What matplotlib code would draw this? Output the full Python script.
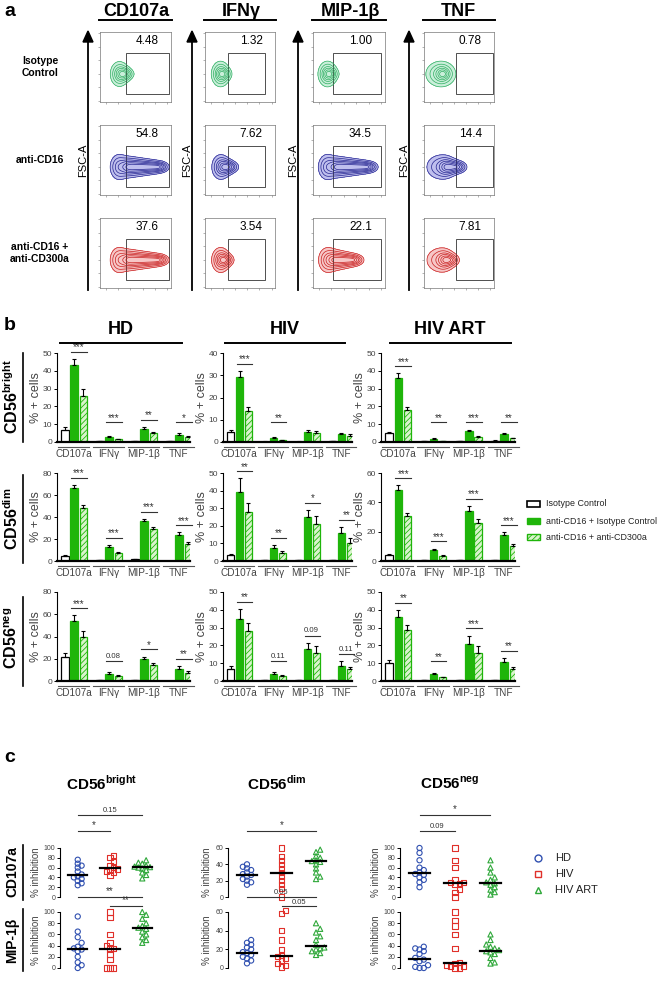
import numpy as np
import matplotlib
matplotlib.use("Agg")
import matplotlib.pyplot as plt
from matplotlib.lines import Line2D
from matplotlib.patches import Rectangle, Polygon

plt.rcParams['font.family'] = ['Liberation Sans', 'DejaVu Sans']
plt.rcParams['hatch.linewidth'] = 0.6

# ---------------- data ----------------
markers = ["CD107a", "IFNγ", "MIP-1β", "TNF"]
conditions = ["Isotype\nControl", "anti-CD16", "anti-CD16 +\nanti-CD300a"]
flow_pct = [[4.48, 1.32, 1.00, 0.78],
            [54.8, 7.62, 34.5, 14.4],
            [37.6, 3.54, 22.1, 7.81]]

cohorts = ["HD", "HIV", "HIV ART"]
subset_labels = ["bright", "dim", "neg"]
treatments = ["Isotype Control", "anti-CD16 + Isotype Control", "anti-CD16 + anti-CD300a"]

# bar means / errors: rows = treatment, cols = marker
HD_bright_mean = [[7.0, 0.3, 0.5, 0.4], [43, 3.0, 7.5, 4.0], [26, 1.5, 5.0, 3.0]]
HD_bright_err = [[1.5, 0.1, 0.1, 0.1], [3.5, 0.5, 0.8, 0.8], [3.5, 0.4, 0.6, 0.5]]
HD_bright_sig = ["***", "***", "**", "*"]
HIV_bright_mean = [[4.5, 0.2, 0.2, 0.5], [29, 1.8, 4.5, 3.5], [14, 0.8, 4.0, 2.8]]
HIV_bright_err = [[0.8, 0.1, 0.1, 0.1], [3.0, 0.3, 1.0, 0.7], [1.8, 0.2, 1.0, 0.8]]
HIV_bright_sig = ["***", "**", "", ""]
ART_bright_mean = [[5.0, 0.5, 0.5, 0.8], [36, 1.8, 6.0, 4.5], [18, 0.6, 3.0, 2.0]]
ART_bright_err = [[0.7, 0.1, 0.1, 0.1], [2.5, 0.3, 1.0, 0.8], [1.5, 0.2, 0.5, 0.4]]
ART_bright_sig = ["***", "**", "***", "**"]

HD_dim_mean = [[5.0, 0.5, 1.5, 0.3], [66, 13, 36, 23.5], [48, 7.5, 29.5, 15.5]]
HD_dim_err = [[0.8, 0.2, 0.3, 0.1], [3.0, 1.5, 2.5, 2.5], [3.0, 1.0, 1.5, 1.5]]
HD_dim_sig = ["***", "***", "***", "***"]
HIV_dim_mean = [[3.5, 0.5, 0.5, 0.5], [39, 7.5, 25, 16], [28, 4.5, 21, 10.5]]
HIV_dim_err = [[0.6, 0.2, 0.1, 0.1], [8.0, 1.5, 4.0, 3.5], [5.0, 1.0, 4.5, 2.5]]
HIV_dim_sig = ["**", "**", "*", "**"]
ART_dim_mean = [[4.0, 0.5, 0.5, 0.5], [48.5, 7.5, 34, 17.5], [31, 3.5, 26, 10]]
ART_dim_err = [[0.7, 0.2, 0.1, 0.1], [3.0, 1.0, 3.5, 2.0], [2.0, 0.6, 2.5, 1.5]]
ART_dim_sig = ["***", "***", "***", "***"]

HD_neg_mean = [[22, 1.0, 0.5, 0.3], [54, 6.5, 19.5, 11], [40, 4.5, 14.5, 7.5]]
HD_neg_err = [[3.5, 0.3, 0.1, 0.1], [5.0, 1.5, 2.5, 2.5], [4.5, 1.0, 1.5, 1.5]]
HD_neg_sig = ["***", "0.08", "*", "**"]
HIV_neg_mean = [[7.0, 0.5, 0.3, 0.3], [35, 4.0, 18, 8.5], [28, 3.0, 16, 6.5]]
HIV_neg_err = [[1.2, 0.2, 0.1, 0.1], [5.5, 1.0, 3.5, 2.5], [4.5, 0.6, 3.5, 1.5]]
HIV_neg_sig = ["**", "0.11", "0.09", "0.11"]
ART_neg_mean = [[10, 0.5, 0.3, 0.3], [36, 4.0, 21, 10.5], [28.5, 2.0, 16, 6.5]]
ART_neg_err = [[2.0, 0.2, 0.1, 0.1], [4.0, 0.7, 4.5, 2.5], [3.0, 0.5, 3.5, 1.5]]
ART_neg_sig = ["**", "**", "***", "**"]

bar_ymax = [[50, 40, 50], [80, 50, 60], [80, 50, 50]]
bar_ystep = [[10, 10, 10], [20, 10, 20], [20, 10, 10]]

# panel c: % inhibition per donor
groups_c = ["HD", "HIV", "HIV ART"]
cd107a_bright = [[76, 68, 64, 60, 52, 46, 42, 40, 37, 33, 28, 24],
                 [85, 80, 72, 65, 60, 57, 55, 52, 50, 45],
                 [75, 70, 68, 64, 62, 61, 60, 58, 55, 50, 45, 38]]
cd107a_dim = [[40, 37, 35, 33, 30, 28, 27, 25, 22, 20, 18, 15],
              [60, 50, 45, 40, 35, 30, 25, 20, 15, 10, 0],
              [58, 55, 50, 48, 45, 44, 43, 40, 35, 30, 25, 22]]
cd107a_neg = [[100, 90, 75, 60, 55, 50, 47, 45, 40, 35, 30, 20],
              [100, 75, 60, 35, 30, 29, 28, 25, 15, 10, 0],
              [75, 60, 50, 40, 35, 30, 28, 25, 20, 15, 10, 5]]
mip_bright = [[92, 65, 55, 45, 38, 35, 33, 30, 20, 10, 5, 0],
              [100, 90, 60, 45, 40, 35, 34, 25, 15, 0, 0, 0],
              [100, 95, 88, 80, 75, 72, 70, 65, 60, 55, 50, 45]]
mip_dim = [[30, 27, 25, 22, 20, 17, 16, 14, 12, 10, 8, 5],
           [62, 58, 40, 30, 20, 13, 12, 10, 8, 5, 3, 1],
           [48, 42, 38, 34, 30, 25, 22, 21, 20, 18, 16, 14]]
mip_neg = [[38, 35, 33, 30, 25, 18, 15, 12, 5, 2, 0, 0],
           [100, 85, 75, 60, 35, 10, 8, 5, 3, 2, 0, 0],
           [60, 50, 42, 38, 35, 32, 30, 28, 25, 18, 10, 8]]
scatter_ymax = [[100, 60, 100], [100, 60, 100]]
scatter_sig = [[[(0, 1, "*"), (0, 2, "0.15")], [(0, 2, "*")], [(0, 1, "0.09"), (0, 2, "*")]],
               [[(1, 2, "**"), (0, 2, "**")], [(1, 2, "0.05"), (0, 2, "0.05")], []]]

# ---------------- figure helpers ----------------
W, H = 666, 990
fig = plt.figure(figsize=(W / 100, H / 100), dpi=100)
GREEN = '#1fb50a'
LGREEN = '#d9f4cc'
GRAY = '#444444'


def ax_px(x0, y0, x1, y1):
    return fig.add_axes([x0 / W, 1 - y1 / H, (x1 - x0) / W, (y1 - y0) / H])


def ftext(x, y, s, **kw):
    fig.text(x / W, 1 - y / H, s, **kw)


def fline(x0, y0, x1, y1, **kw):
    fig.add_artist(Line2D([x0 / W, x1 / W], [1 - y0 / H, 1 - y1 / H],
                          transform=fig.transFigure, **kw))


# ---------------- panel a ----------------
ftext(4, 12, "a", fontsize=14, fontweight='bold', va='center')
col_x = [(100, 171), (205, 275), (313, 385), (424, 494)]
row_y = [(32, 102), (125, 195), (218, 288)]
arrow_x = [88, 192, 298, 409]
title_cx = [136, 241, 350, 458]
blob_cx = [0.27, 0.22, 0.20, 0.24]
blob_sx = [0.06, 0.06, 0.06, 0.10]
gate_x = [(0.37, 0.97), (0.33, 0.86), (0.28, 0.94), (0.45, 0.98)]
fill_cols = ['#9fe3bd', '#8c8ce0', '#f29a9a']
line_cols = ['#2fae62', '#23238f', '#c81e1e']

for j, m in enumerate(markers):
    ftext(title_cx[j], 12, m, fontsize=13, fontweight='bold', ha='center', va='center')
    fline(col_x[j][0] - 1, 20, col_x[j][1] + 1, 20, color='black', lw=1.4)
    fline(arrow_x[j], 290, arrow_x[j], 40, color='black', lw=1.3)
    fig.add_artist(Polygon(
        [[(arrow_x[j] - 5) / W, 1 - 42 / H], [(arrow_x[j] + 5) / W, 1 - 42 / H],
         [arrow_x[j] / W, 1 - 31 / H]], closed=True, transform=fig.transFigure,
        color='black'))
    ftext(arrow_x[j] - 5, 160, "FSC-A", fontsize=8, rotation=90, ha='center', va='center')

X, Y = np.meshgrid(np.linspace(0, 1, 220), np.linspace(0, 1, 220))
for i in range(3):
    ftext(40, (row_y[i][0] + row_y[i][1]) / 2, conditions[i], fontsize=7.5,
          fontweight='bold', ha='center', va='center', linespacing=1.2)
    for j in range(4):
        ax = ax_px(col_x[j][0], row_y[i][0], col_x[j][1], row_y[i][1])
        pct = flow_pct[i][j]
        cx, cy = blob_cx[j], 0.40
        Z = np.exp(-0.5 * (((X - cx) / blob_sx[j]) ** 2 + ((Y - cy) / 0.085) ** 2))
        L = min(0.6, 0.04 + pct / 60)
        amp = min(0.85, 0.1 + pct / 40)
        for t in np.linspace(0.15, 1, 14):
            Z += amp * np.exp(-0.5 * (((X - cx - L * t) / 0.05) ** 2 +
                                      ((Y - cy) / (0.07 * (1 - 0.5 * t))) ** 2))
        zmax = Z.max()
        lev = zmax * np.array([0.04, 0.12, 0.25, 0.4, 0.6, 0.8])
        ax.contourf(X, Y, Z, levels=[lev[0], zmax * 1.01], colors=[fill_cols[i]], alpha=0.55)
        ax.contour(X, Y, Z, levels=lev, colors=[line_cols[i]], linewidths=0.5)
        g0, g1 = gate_x[j]
        ax.add_patch(Rectangle((g0, 0.12), g1 - g0, 0.58, fill=False, ec='#333333', lw=0.6))
        lab = f"{pct:.2f}" if pct < 10 else f"{pct:.1f}"
        ax.text(0.66, 0.87, lab, fontsize=8.5, ha='center', va='center', transform=ax.transAxes)
        ax.set_xlim(0, 1)
        ax.set_ylim(0, 1)
        ax.set_xticks(np.linspace(0.08, 0.95, 6))
        ax.set_yticks(np.linspace(0.02, 0.98, 6))
        ax.tick_params(length=1.5, width=0.4, labelbottom=False, labelleft=False, colors='#777777')
        for s in ax.spines.values():
            s.set_color('#777777')
            s.set_linewidth(0.5)

# ---------------- panel b ----------------
ftext(4, 326, "b", fontsize=14, fontweight='bold', va='center')
bar_x = [(57, 190), (223, 352), (381, 515)]
bar_rows = [(353, 442), (473, 561), (592, 681)]
coh_title_x = [121, 285, 450]
coh_line = [(60, 182), (225, 345), (390, 511)]
for k, c in enumerate(cohorts):
    ftext(coh_title_x[k], 330, c, fontsize=13, fontweight='bold', ha='center', va='center')
    fline(coh_line[k][0], 343, coh_line[k][1], 343, color='black', lw=1.4)

row_label_y = [397, 519, 638]
row_line = [(353, 442), (475, 563), (597, 686)]
for r, sname in enumerate(subset_labels):
    ftext(12, row_label_y[r], "CD56$^{\\mathregular{" + sname + "}}$", fontsize=11.5,
          fontweight='bold', rotation=90, ha='center', va='center')
    fline(23, row_line[r][0], 23, row_line[r][1], color='black', lw=1.2)

panels_b = [[(HD_bright_mean, HD_bright_err, HD_bright_sig),
             (HIV_bright_mean, HIV_bright_err, HIV_bright_sig),
             (ART_bright_mean, ART_bright_err, ART_bright_sig)],
            [(HD_dim_mean, HD_dim_err, HD_dim_sig),
             (HIV_dim_mean, HIV_dim_err, HIV_dim_sig),
             (ART_dim_mean, ART_dim_err, ART_dim_sig)],
            [(HD_neg_mean, HD_neg_err, HD_neg_sig),
             (HIV_neg_mean, HIV_neg_err, HIV_neg_sig),
             (ART_neg_mean, ART_neg_err, ART_neg_sig)]]

w, off = 0.21, 0.26
xs = np.arange(4)
for r in range(3):
    for k in range(3):
        means, errs, sigs = panels_b[r][k]
        ymax = bar_ymax[r][k]
        ax = ax_px(bar_x[k][0], bar_rows[r][0], bar_x[k][1], bar_rows[r][1])
        ekw = dict(ecolor='black', elinewidth=0.8, capsize=1.6, capthick=0.8)
        ax.bar(xs - off, means[0], w, color='white', edgecolor='black', lw=0.9,
               yerr=[np.zeros(4), errs[0]], error_kw=ekw, zorder=3)
        ax.bar(xs, means[1], w, color=GREEN, edgecolor=GREEN, lw=0.9,
               yerr=[np.zeros(4), errs[1]], error_kw=ekw, zorder=3)
        ax.bar(xs + off, means[2], w, color=LGREEN, edgecolor=GREEN, lw=0.9, hatch='//////',
               yerr=[np.zeros(4), errs[2]], error_kw=ekw, zorder=3)
        ax.set_xlim(-0.49, 3.31)
        ax.set_ylim(0, ymax)
        ax.set_yticks(np.arange(0, ymax + 1, bar_ystep[r][k]))
        ax.set_xticks([])
        for s in ['top', 'right', 'bottom']:
            ax.spines[s].set_visible(False)
        ax.spines['left'].set_linewidth(0.8)
        ax.tick_params(axis='y', length=2.5, width=0.7, labelsize=6, labelcolor=GRAY, pad=1)
        ax.axhline(0, color='black', lw=1.6, zorder=4, clip_on=False)
        ax.set_ylabel("% + cells", fontsize=9, color=GRAY, labelpad=0.5)
        tr = ax.get_xaxis_transform()
        for i, m in enumerate(markers):
            ax.plot([i - 0.46, i + 0.43], [-0.055, -0.055], color='#555555', lw=0.8,
                    transform=tr, clip_on=False)
            ax.text(i - 0.01, -0.135, m, fontsize=7.2, color=GRAY, ha='center', va='center',
                    transform=tr)
            s = sigs[i]
            if s:
                top = max(means[1][i] + errs[1][i], means[2][i] + errs[2][i])
                yl = max(top + 0.08 * ymax, 0.22 * ymax)
                ax.plot([i - 0.08, i + 0.36], [yl, yl], color='#333333', lw=0.8, clip_on=False)
                if s.startswith('*'):
                    ax.text(i + 0.14, yl - 0.005 * ymax, s, fontsize=7, ha='center', va='bottom',
                            color='#333333')
                else:
                    ax.text(i + 0.12, yl + 0.02 * ymax, s, fontsize=5.6, ha='center', va='bottom',
                            color='#333333')

# legend b
leg_y = [504, 521, 537]
for t, tname in enumerate(treatments):
    if t == 0:
        p = Rectangle((527 / W, 1 - (leg_y[t] + 3) / H), 13 / W, 6 / H, fc='white', ec='black',
                      lw=1.2, transform=fig.transFigure)
    elif t == 1:
        p = Rectangle((527 / W, 1 - (leg_y[t] + 3) / H), 13 / W, 6 / H, fc=GREEN, ec=GREEN,
                      lw=1.0, transform=fig.transFigure)
    else:
        p = Rectangle((527 / W, 1 - (leg_y[t] + 3) / H), 13 / W, 6 / H, fc=LGREEN, ec=GREEN,
                      lw=1.0, hatch='//////', transform=fig.transFigure)
    fig.add_artist(p)
    ftext(546, leg_y[t], tname, fontsize=6.4, va='center', color='#222222')

# ---------------- panel c ----------------
ftext(4, 758, "c", fontsize=14, fontweight='bold', va='center')
sc_x = [(60, 160), (228, 335), (400, 510)]
sc_y = [(848, 897), (912, 968)]
sc_title_x = [102, 277, 450]
sc_titles = ["bright", "dim", "neg"]
for k in range(3):
    ftext(sc_title_x[k], 783, "CD56$^{\\mathregular{" + sc_titles[k] + "}}$", fontsize=11,
          fontweight='bold', ha='center', va='center')
sc_row_labels = ["CD107a", "MIP-1β"]
sc_row_label_y = [872, 940]
for r in range(2):
    ftext(12, sc_row_label_y[r], sc_row_labels[r], fontsize=10, fontweight='bold', rotation=90,
          ha='center', va='center')
    fline(23, sc_y[r][0] - 3, 23, sc_y[r][1] + 3, color='black', lw=1.2)

sc_data = [[cd107a_bright, cd107a_dim, cd107a_neg], [mip_bright, mip_dim, mip_neg]]
mk = ['o', 's', '^']
mcol = ['#3050b0', '#e0302a', '#2fa83a']


def swarm(vals, ymax, dx=0.12, dy=0.08):
    vals = np.asarray(vals, float)
    order = np.argsort(vals)
    placed = []
    offs = np.zeros(len(vals))
    for idx in order:
        v = vals[idx]
        o = 0.0
        for kk in [0, 1, -1, 2, -2, 3, -3]:
            o = kk * dx
            if all(((o - po) / dx) ** 2 + ((v - pv) / (dy * ymax)) ** 2 >= 0.99 for po, pv in placed):
                break
        offs[idx] = o
        placed.append((o, v))
    return offs


for r in range(2):
    for k in range(3):
        ymax = scatter_ymax[r][k]
        ax = ax_px(sc_x[k][0], sc_y[r][0], sc_x[k][1], sc_y[r][1])
        for g in range(3):
            vals = sc_data[r][k][g]
            offs = swarm(vals, ymax)
            ax.scatter(g + offs, vals, marker=mk[g], facecolors='none', edgecolors=mcol[g],
                       s=14, linewidths=0.8, clip_on=False, zorder=3)
            med = np.median(vals)
            ax.plot([g - 0.3, g + 0.3], [med, med], color='black', lw=1.6, zorder=4)
        ax.set_xlim(-0.55, 2.55)
        ax.set_ylim(0, ymax)
        ax.set_yticks(np.arange(0, ymax + 1, 20))
        ax.set_xticks([])
        for s in ['top', 'right', 'bottom']:
            ax.spines[s].set_visible(False)
        ax.spines['left'].set_linewidth(0.8)
        ax.tick_params(axis='y', length=2.5, width=0.7, labelsize=5, labelcolor=GRAY, pad=1)
        ax.set_ylabel("% inhibition", fontsize=7, color=GRAY, labelpad=2)
        hpx = sc_y[r][1] - sc_y[r][0]
        for lvl, (g1, g2, lab) in enumerate(scatter_sig[r][k]):
            if r == 0:
                yy = 1 + (17 + 16 * lvl) / hpx
            else:
                yy = 1 + (6 + 9 * lvl) / hpx
            ax.plot([g1, g2], [yy, yy], color='#333333', lw=0.8, transform=ax.get_xaxis_transform(),
                    clip_on=False)
            ax.text((g1 + g2) / 2, yy + 0.5 / hpx, lab, fontsize=7 if lab.startswith('*') else 5.5,
                    ha='center', va='bottom', transform=ax.get_xaxis_transform(), color='#333333')

# legend c
leg_c_y = [858, 874, 890]
for g in range(3):
    fig.add_artist(Line2D([538 / W], [1 - leg_c_y[g] / H], marker=mk[g], markersize=5,
                          markerfacecolor='none', markeredgecolor=mcol[g], markeredgewidth=1.0,
                          linestyle='none', transform=fig.transFigure))
    ftext(555, leg_c_y[g], groups_c[g], fontsize=8, va='center', color='#222222')

fig.savefig("out.png", dpi=100)
